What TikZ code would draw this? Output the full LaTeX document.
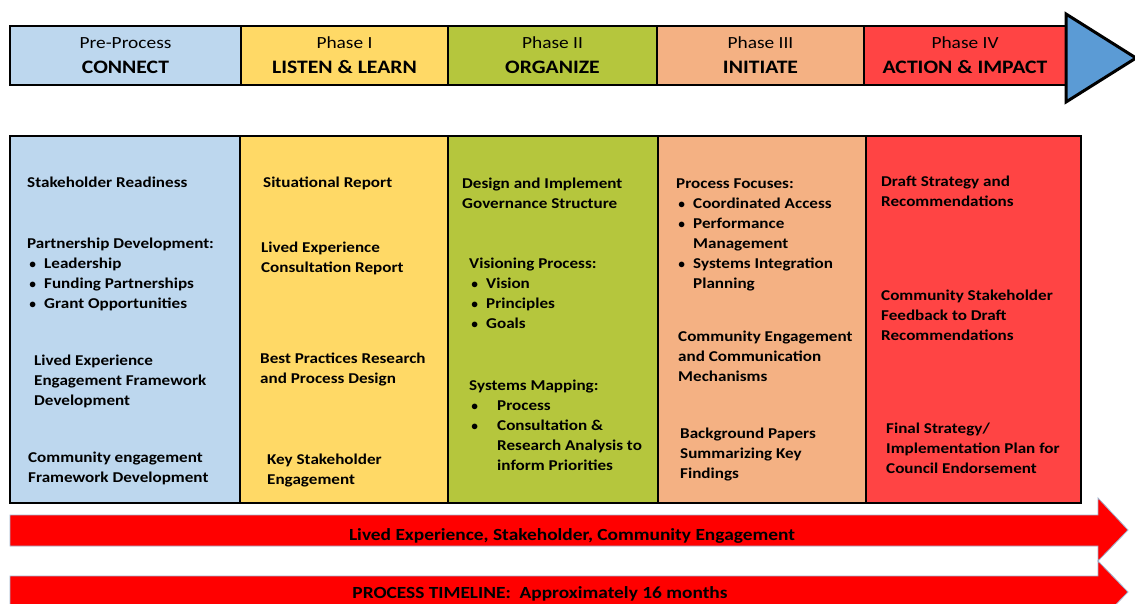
\documentclass[tikz,border=0pt]{standalone}
\usepackage{fontspec}
\setmainfont{Carlito}[FakeStretch=1.14]
\definecolor{blueC}{HTML}{BDD7EE}
\definecolor{yellowC}{HTML}{FFD966}
\definecolor{greenC}{HTML}{B5C63D}
\definecolor{orangeC}{HTML}{F4B183}
\definecolor{redC}{HTML}{FF4444}
\definecolor{arrowBlue}{HTML}{5B9BD5}
\definecolor{bandRed}{HTML}{FF0000}
\definecolor{bandEdge}{HTML}{9FB4CF}
\tikzset{
  hbox/.style={draw=black, line width=2.2pt, minimum height=59pt, inner sep=0pt, align=center, font=\fontsize{17}{25}\selectfont},
  colbox/.style={draw=black, line width=2.4pt, minimum height=367pt, inner sep=0pt},
  body/.style={font=\bfseries\fontsize{15}{20}\selectfont, align=left, anchor=base west, inner sep=0pt},
  band/.style={fill=bandRed, draw=bandEdge, line width=0.8pt},
  bandtext/.style={font=\bfseries\fontsize{17}{20}\selectfont, inner sep=0pt}
}
\newcommand{\bul}[1]{\makebox[#1][l]{$\bullet$}}
\begin{document}
\begin{tikzpicture}[x=1pt,y=-1pt]
\useasboundingbox (0,0) rectangle (1135,604);
\clip (0,0) rectangle (1135,604);
% top header bar
\node[hbox, fill=blueC, minimum width=231pt] (h0) at (125.5,55.5) {Pre-Process\\{\bfseries\fontsize{19}{25}\selectfont CONNECT}};
\node[hbox, fill=yellowC, minimum width=207pt] (h1) at (344.5,55.5) {Phase I\\{\bfseries\fontsize{19}{25}\selectfont LISTEN \& LEARN}};
\node[hbox, fill=greenC, minimum width=209pt] (h2) at (552.5,55.5) {Phase II\\{\bfseries\fontsize{19}{25}\selectfont ORGANIZE}};
\node[hbox, fill=orangeC, minimum width=207pt] (h3) at (760.5,55.5) {Phase III\\{\bfseries\fontsize{19}{25}\selectfont INITIATE}};
\node[hbox, fill=redC, minimum width=202pt] (h4) at (965,55.5) {Phase IV\\{\bfseries\fontsize{19}{25}\selectfont ACTION \& IMPACT}};
\draw[fill=arrowBlue, line width=3pt, line join=miter] (1066,14) -- (1136,58) -- (1066,102) -- cycle;
% columns
\node[colbox, fill=blueC, minimum width=230pt] (c0) at (125,319.5) {};
\node[colbox, fill=yellowC, minimum width=208pt] (c1) at (344,319.5) {};
\node[colbox, fill=greenC, minimum width=210pt] (c2) at (553,319.5) {};
\node[colbox, fill=orangeC, minimum width=208pt] (c3) at (762,319.5) {};
\node[colbox, fill=redC, minimum width=215pt] (c4) at (973.5,319.5) {};
% column 1
\node[body] (t01) at (27,188) {Stakeholder Readiness};
\node[body] (t02) at (27,308) {Partnership Development:\\\hspace*{2pt}\bul{15pt}Leadership\\\hspace*{2pt}\bul{15pt}Funding Partnerships\\\hspace*{2pt}\bul{15pt}Grant Opportunities};
\node[body] (t03) at (34,405) {Lived Experience\\Engagement Framework\\Development};
\node[body] (t04) at (28,482) {Community engagement\\Framework Development};
% column 2
\node[body] (t11) at (263,188) {Situational Report};
\node[body] (t12) at (261,272) {Lived Experience\\Consultation Report};
\node[body] (t13) at (260,383) {Best Practices Research\\and Process Design};
\node[body] (t14) at (267,484) {Key Stakeholder\\Engagement};
% column 3
\node[body] (t21) at (462,208) {Design and Implement\\Governance Structure};
\node[body] (t22) at (469,328) {Visioning Process:\\\hspace*{2pt}\bul{15pt}Vision\\\hspace*{2pt}\bul{15pt}Principles\\\hspace*{2pt}\bul{15pt}Goals};
\node[body] (t23) at (469,470) {Systems Mapping:\\\hspace*{2pt}\bul{26pt}Process\\\hspace*{2pt}\bul{26pt}Consultation \&\\\hspace*{28pt}Research Analysis to\\\hspace*{28pt}inform Priorities};
% column 4
\node[body] (t31) at (676,288) {Process Focuses:\\\hspace*{2pt}\bul{15pt}Coordinated Access\\\hspace*{2pt}\bul{15pt}Performance\\\hspace*{17pt}Management\\\hspace*{2pt}\bul{15pt}Systems Integration\\\hspace*{17pt}Planning};
\node[body] (t32) at (678,381) {Community Engagement\\and Communication\\Mechanisms};
\node[body] (t33) at (680,478) {Background Papers\\Summarizing Key\\Findings};
% column 5
\node[body] (t41) at (881,207) {Draft Strategy and\\Recommendations};
\node[body] (t42) at (881,340) {Community Stakeholder\\Feedback to Draft\\Recommendations};
\node[body] (t43) at (886,473) {Final Strategy/\\Implementation Plan for\\Council Endorsement};
% bottom bands
\draw[band] (10,515) -- (1098,515) -- (1098,498) -- (1128,530) -- (1098,561) -- (1098,546) -- (10,546) -- cycle;
\draw[band] (10,576) -- (1098,576) -- (1098,561) -- (1128,592) -- (1098,623) -- (1098,608) -- (10,608) -- cycle;
\node[bandtext] (b1) at (572,536) {Lived Experience, Stakeholder, Community Engagement};
\node[bandtext] (b2) at (540,594) {PROCESS TIMELINE:\ \ Approximately 16 months};
\end{tikzpicture}
\end{document}
